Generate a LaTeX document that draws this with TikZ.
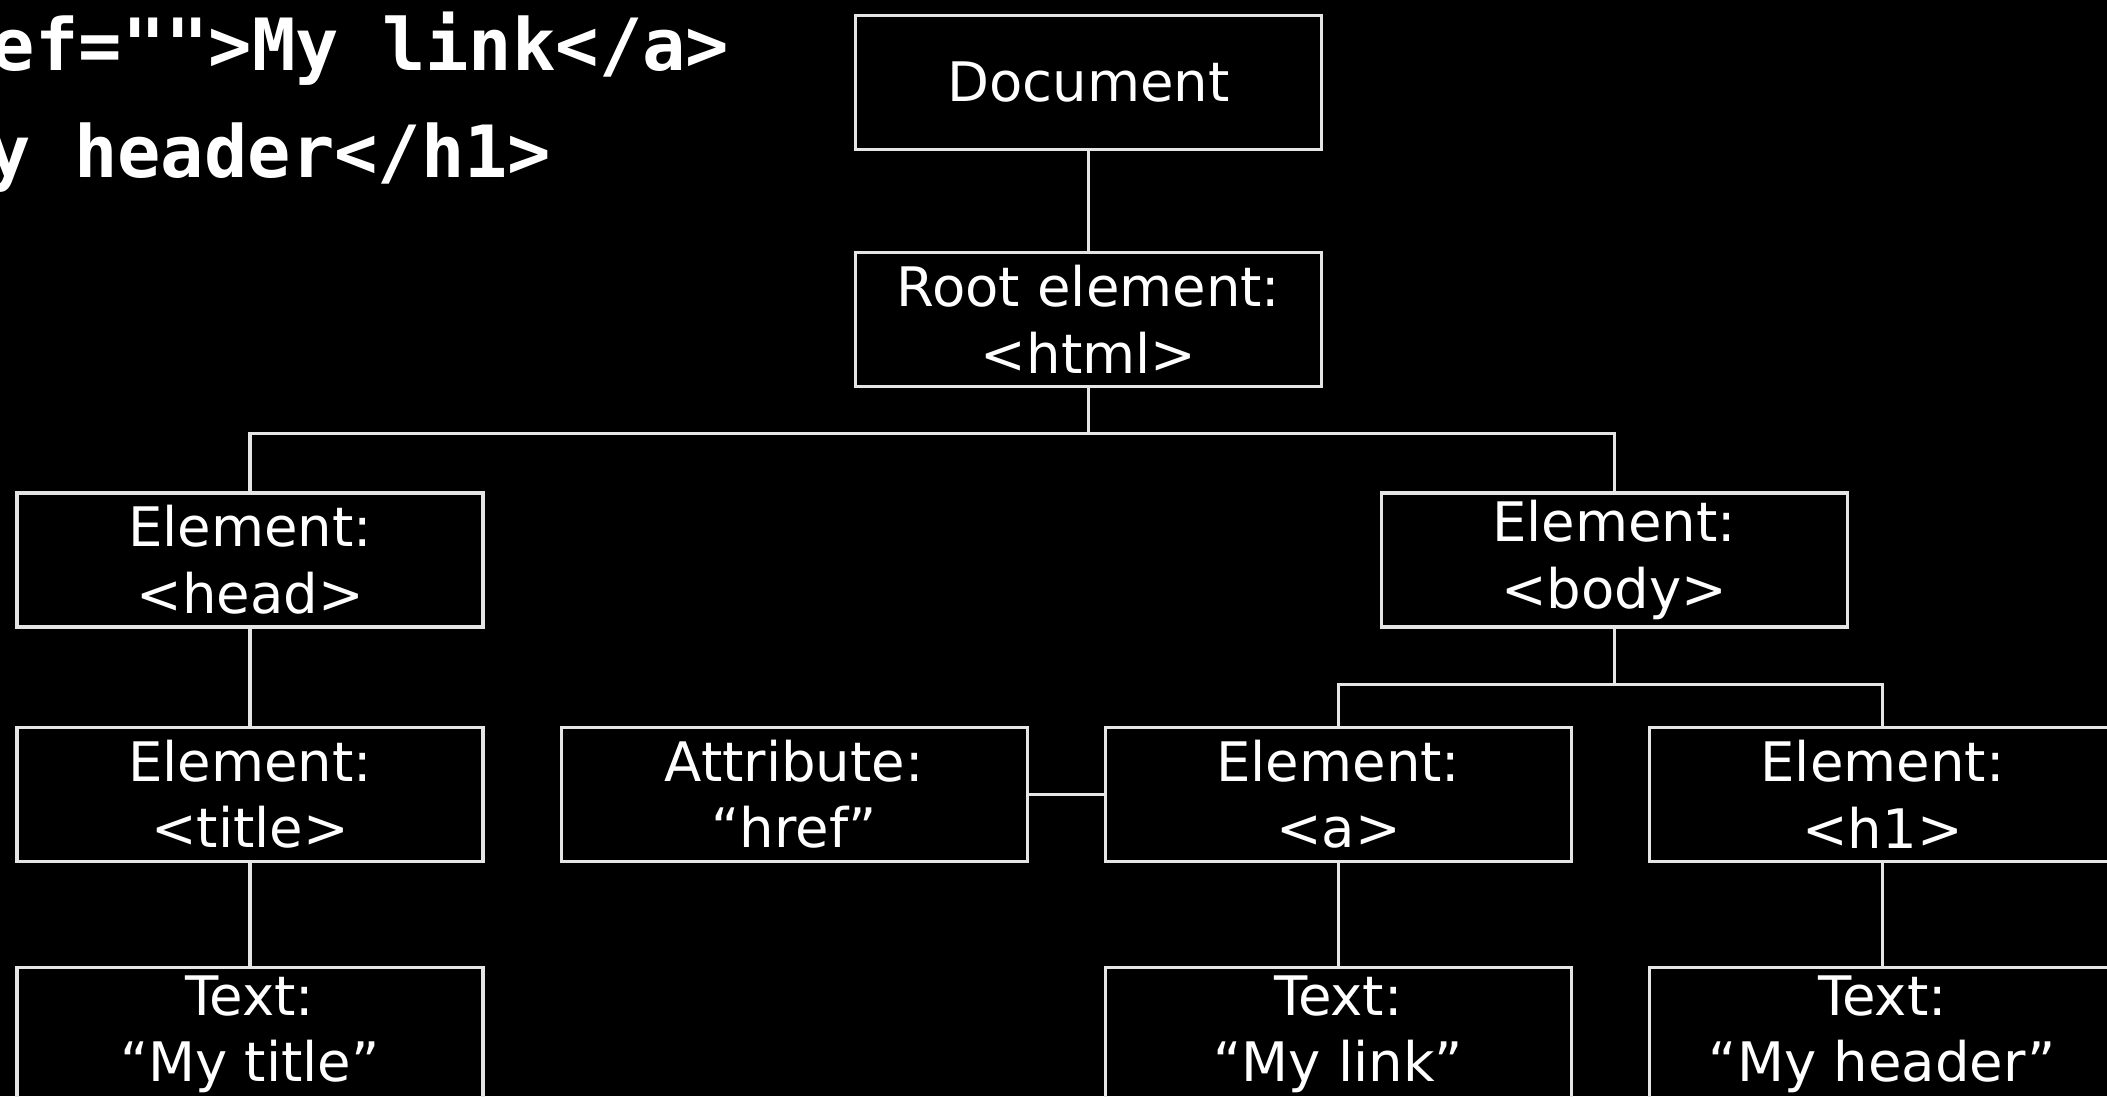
\documentclass[tikz,border=0pt]{standalone}
\usepackage{fontspec}
\setmainfont{DejaVu Sans}
\newfontfamily\codefont{DejaVu Sans Mono}
\usetikzlibrary{positioning,calc}

\begin{document}
\begin{tikzpicture}[node distance=1.0cm and 0.75cm,
		domnode/.style={rectangle, draw=white!90!black, line width=0.9pt, minimum width=4.66cm, minimum height=1.34cm, inner sep=0pt, align=center, text=white, font=\fontsize{15.5}{19}\selectfont},
		codeline/.style={anchor=base east, inner sep=0pt, text=white, font=\codefont\bfseries\fontsize{20.5}{24}\selectfont}]

		\useasboundingbox (0,0) rectangle (21.07,-10.96);
		\fill[black] (0,0) rectangle (21.07,-10.96);

		\node(code-1)[codeline] at (7.30,-0.70) {ef="">My link</a>};
		\node(code-2)[codeline] at (5.52,-1.77) {y header</h1>};

		\node(doc)[domnode] at (10.885,-0.825) {Document};
		\node(root)[domnode, below=of doc] {Root element:\\<html>};

		\node(elem-head)[domnode] at (2.50,-5.60) {Element:\\<head>};
		\node(elem-body)[domnode, right=8.95cm of elem-head] {Element:\\<body>};

		\node(elem-title)[domnode, below=0.97cm of elem-head] {Element:\\<title>};
		\node(attr-href)[domnode, right=of elem-title] {Attribute:\\“href”};
		\node(elem-a)[domnode, right=of attr-href] {Element:\\<a>};
		\node(elem-h1)[domnode, right=of elem-a] {Element:\\<h1>};

		\node(text-title)[domnode, below=1.03cm of elem-title] {Text:\\“My title”};
		\node(text-link)[domnode, below=1.03cm of elem-a] {Text:\\“My link”};
		\node(text-header)[domnode, below=1.03cm of elem-h1] {Text:\\“My header”};

		\coordinate(split-root) at ($(root.south)+(0,-0.45)$);
		\coordinate(split-body) at ($(elem-body.south)+(0,-0.56)$);

		\draw[white!90!black, line width=0.9pt] (doc) -- (root) -- (split-root);
		\draw[white!90!black, line width=0.9pt] (elem-head.north) |- (split-root) -| (elem-body.north);
		\draw[white!90!black, line width=0.9pt] (elem-body) -- (split-body);
		\draw[white!90!black, line width=0.9pt] (elem-a.north) |- (split-body) -| (elem-h1.north);
		\draw[white!90!black, line width=0.9pt] (elem-head) -- (elem-title) -- (text-title);
		\draw[white!90!black, line width=0.9pt] (attr-href) -- (elem-a) -- (text-link);
		\draw[white!90!black, line width=0.9pt] (elem-h1) -- (text-header);
	\end{tikzpicture}
\end{document}
